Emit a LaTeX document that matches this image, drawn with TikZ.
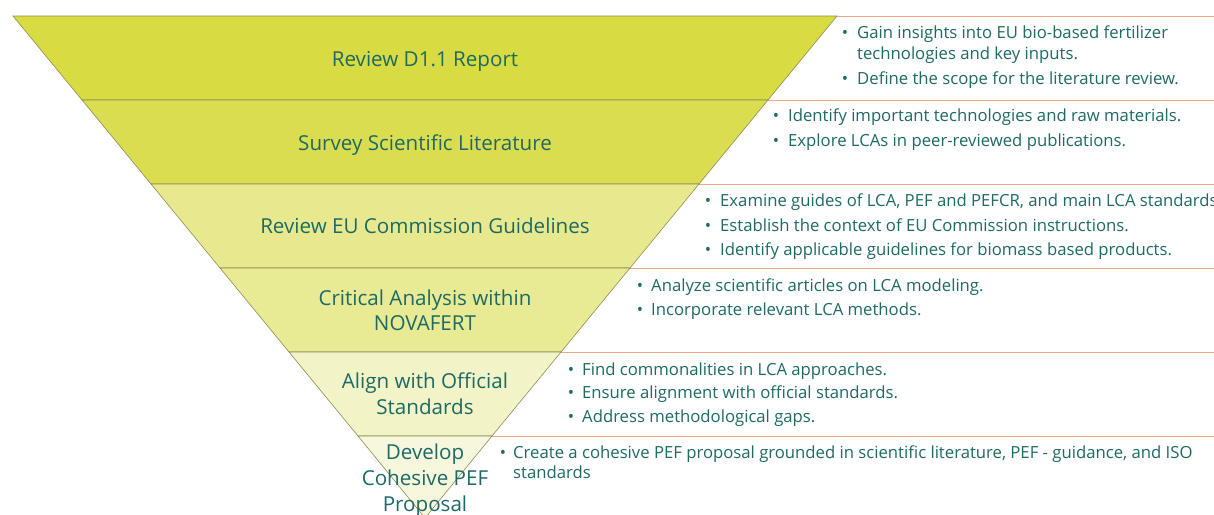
\documentclass[tikz,border=0pt]{standalone}
\usepackage{fontspec}
\setmainfont{Open Sans}
\definecolor{txt}{HTML}{1D6A64}
\definecolor{bandA}{HTML}{D8DB42}
\definecolor{bandB}{HTML}{DADD50}
\definecolor{bandC}{HTML}{E8E98F}
\definecolor{bandD}{HTML}{E9EA94}
\definecolor{bandE}{HTML}{F2F3C6}
\definecolor{bandF}{HTML}{F7F7DD}
\definecolor{edge}{HTML}{8E8E55}
\definecolor{rule}{HTML}{EDA98C}
\tikzset{
  band/.style={draw=edge, line width=0.6pt},
  sep/.style={draw=rule, line width=0.8pt},
  lbl/.style={text=txt, font=\fontsize{20.6}{26}\selectfont, anchor=base, inner sep=0pt},
  blt/.style={text=txt, font=\fontsize{16.7}{22}\selectfont, anchor=base, inner sep=0pt},
  itm/.style={text=txt, font=\fontsize{16.7}{22}\selectfont, anchor=base west, inner sep=0pt},
}
\begin{document}
\begin{tikzpicture}[x=1pt,y=-1pt]
\useasboundingbox (0,0) rectangle (1214,514);
\clip (0,0) rectangle (1214,514);
% right separator rules
\draw[sep] (837,16) -- (1214,16);
\draw[sep] (768,100) -- (1214,100);
\draw[sep] (699,184) -- (1214,184);
\draw[sep] (630,268) -- (1214,268);
\draw[sep] (561,352) -- (1214,352);
\draw[sep] (492,436) -- (1214,436);
% funnel bands
\path[band, fill=bandA] (13,16) -- (837,16) -- (768,100) -- (82,100) -- cycle;
\path[band, fill=bandB] (82,100) -- (768,100) -- (699,184) -- (151,184) -- cycle;
\path[band, fill=bandC] (151,184) -- (699,184) -- (630,268) -- (220,268) -- cycle;
\path[band, fill=bandD] (220,268) -- (630,268) -- (561,352) -- (289,352) -- cycle;
\path[band, fill=bandE] (289,352) -- (561,352) -- (492,436) -- (358,436) -- cycle;
\path[band, fill=bandF] (358,436) -- (492,436) -- (425,518) -- cycle;
% labels
\node[lbl] (l1) at (425,66.5) {Review D1.1 Report};
\node[lbl] (l2) at (425,150) {Survey Scientific Literature};
\node[lbl] (l3) at (425,233) {Review EU Commission Guidelines};
\node[lbl] (l4a) at (425,305) {Critical Analysis within};
\node[lbl] (l4b) at (425,330) {NOVAFERT};
\node[lbl] (l5a) at (425,388) {Align with Official};
\node[lbl] (l5b) at (425,414) {Standards};
\node[lbl] (l6a) at (425,459) {Develop};
\node[lbl] (l6b) at (425,485) {Cohesive PEF};
\node[lbl] (l6c) at (425,511) {Proposal};
% band 1 bullets
\node[blt] (b1a) at (845,38) {•};
\node[itm] (t1a) at (857,38) {Gain insights into EU bio-based fertilizer};
\node[itm] (t1b) at (857,59.5) {technologies and key inputs.};
\node[blt] (b1c) at (845,84) {•};
\node[itm] (t1c) at (857,84) {Define the scope for the literature review.};
% band 2
\node[blt] (b2a) at (776,121.5) {•};
\node[itm] (t2a) at (788,121.5) {Identify important technologies and raw materials.};
\node[blt] (b2b) at (776,146.5) {•};
\node[itm] (t2b) at (788,146.5) {Explore LCAs in peer-reviewed publications.};
% band 3
\node[blt] (b3a) at (708,206.5) {•};
\node[itm] (t3a) at (720,206.5) {Examine guides of LCA, PEF and PEFCR, and main LCA standards};
\node[blt] (b3b) at (708,231) {•};
\node[itm] (t3b) at (720,231) {Establish the context of EU Commission instructions.};
\node[blt] (b3c) at (708,255) {•};
\node[itm] (t3c) at (720,255) {Identify applicable guidelines for biomass based products.};
% band 4
\node[blt] (b4a) at (640,291) {•};
\node[itm] (t4a) at (651,291) {Analyze scientific articles on LCA modeling.};
\node[blt] (b4b) at (640,315) {•};
\node[itm] (t4b) at (651,315) {Incorporate relevant LCA methods.};
% band 5
\node[blt] (b5a) at (571,375) {•};
\node[itm] (t5a) at (582,375) {Find commonalities in LCA approaches.};
\node[blt] (b5b) at (571,398.5) {•};
\node[itm] (t5b) at (582,398.5) {Ensure alignment with official standards.};
\node[blt] (b5c) at (571,422.5) {•};
\node[itm] (t5c) at (582,422.5) {Address methodological gaps.};
% band 6
\node[blt] (b6a) at (503,458) {•};
\node[itm] (t6a) at (513,458) {Create a cohesive PEF proposal grounded in scientific literature, PEF - guidance, and ISO};
\node[itm] (t6b) at (513,478.5) {standards};
\end{tikzpicture}
\end{document}
